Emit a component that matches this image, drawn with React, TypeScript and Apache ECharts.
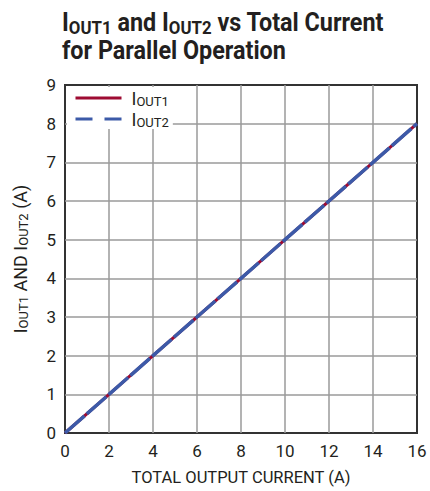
import React, { useEffect, useRef } from "react";
import * as echarts from "echarts";

const totalCurrent = [0, 2, 4, 6, 8, 10, 12, 14, 16];
const iout1 = [0, 1, 2, 3, 4, 5, 6, 7, 8];
const iout2 = [0, 1, 2, 3, 4, 5, 6, 7, 8];
const seriesNames = ["IOUT1", "IOUT2"];

const FONT = "Roboto, 'Liberation Sans', sans-serif";
const INK = "#231f20";

export default function App() {
  const ref = useRef<HTMLDivElement>(null);
  useEffect(() => {
    if (!ref.current) return;
    const chart = echarts.init(ref.current, null, { renderer: "svg" });
    const sub = (name: string) => `{m|I}{s|${name.slice(1)}}`;
    chart.setOption({
      animation: false,
      backgroundColor: "#ffffff",
      graphic: [
        {
          type: "text",
          x: 62,
          y: 9,
          scaleX: 0.935,
          scaleY: 1,
          style: {
            text: "{m|I}{s|OUT1}{m| and I}{s|OUT2}{m| vs Total Current}\n{m|for Parallel Operation}",
            verticalAlign: "top",
            align: "left",
            fill: INK,
            font: "bold 25px " + FONT,
            rich: {
              m: { fontSize: 25, fontWeight: "bold", lineHeight: 28, fill: INK, fontFamily: FONT },
              s: { fontSize: 18, fontWeight: "bold", lineHeight: 15, verticalAlign: "bottom", fill: INK, fontFamily: FONT },
            },
          },
        },
      ],
      legend: {
        orient: "vertical",
        left: 67,
        top: 87,
        padding: [2, 4, 0, 7],
        backgroundColor: "#ffffff",
        itemWidth: 46,
        itemHeight: 14,
        itemGap: 2,
        itemStyle: { color: "rgba(0,0,0,0)", borderWidth: 0, opacity: 0 },
        data: [
          { name: seriesNames[0], lineStyle: { width: 3 } },
          { name: seriesNames[1], lineStyle: { width: 3, type: [17, 12] } },
        ],
        formatter: (name: string) => sub(name),
        textStyle: {
          fontFamily: FONT,
          padding: [0, 0, 0, 5],
          rich: {
            m: { fontSize: 18, lineHeight: 20, color: INK, fontFamily: FONT },
            s: { fontSize: 13, lineHeight: 9, verticalAlign: "bottom", color: INK, fontFamily: FONT },
          },
        },
      },
      grid: {
        left: 65,
        right: 13,
        top: 85,
        bottom: 57,
        show: true,
        borderColor: "#333333",
        borderWidth: 2,
      },
      xAxis: {
        type: "value",
        min: 0,
        max: 16,
        interval: 2,
        name: "TOTAL OUTPUT CURRENT (A)",
        nameLocation: "middle",
        nameGap: 36,
        nameTextStyle: { fontFamily: FONT, fontSize: 16.5, color: INK },
        axisLine: { show: false },
        axisTick: { show: false },
        axisLabel: { margin: 9, fontFamily: FONT, fontSize: 17, color: INK },
        splitLine: { show: true, showMinLine: false, showMaxLine: false, lineStyle: { color: "#9a9a9a", width: 1.5 } },
      },
      yAxis: {
        type: "value",
        min: 0,
        max: 9,
        interval: 1,
        name: "{m|I}{s|OUT1}{m| AND I}{s|OUT2}{m| (A)}",
        nameLocation: "middle",
        nameGap: 35,
        nameTextStyle: {
          fontFamily: FONT,
          rich: {
            m: { fontSize: 18, lineHeight: 20, color: INK, fontFamily: FONT },
            s: { fontSize: 13, lineHeight: 9, verticalAlign: "bottom", color: INK, fontFamily: FONT },
          },
        },
        axisLine: { show: false },
        axisTick: { show: false },
        axisLabel: { margin: 9, fontFamily: FONT, fontSize: 17, color: INK },
        splitLine: { show: true, showMinLine: false, showMaxLine: false, lineStyle: { color: "#9a9a9a", width: 1.5 } },
      },
      series: [
        {
          name: seriesNames[0],
          type: "line",
          symbol: "none",
          data: totalCurrent.map((x, i) => [x, iout1[i]]),
          lineStyle: { color: "#9e0b32", width: 3 },
          itemStyle: { color: "#9e0b32" },
          z: 3,
        },
        {
          name: seriesNames[1],
          type: "line",
          symbol: "none",
          data: totalCurrent.map((x, i) => [x, iout2[i]]),
          lineStyle: { color: "#3c5aa8", width: 3.5, type: [26, 3] },
          itemStyle: { color: "#3c5aa8" },
          z: 4,
        },
      ],
    });
    return () => chart.dispose();
  }, []);
  return (
    <div
      ref={ref}
      style={{ position: "fixed", left: 0, top: 0, width: 430, height: 491 }}
    />
  );
}
